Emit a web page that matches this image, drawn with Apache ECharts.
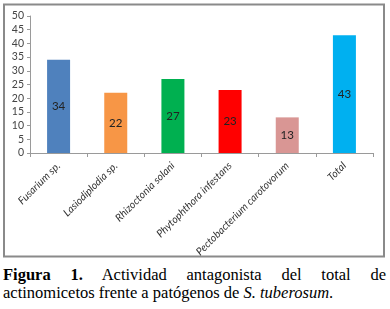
<!DOCTYPE html>
<html>
<head>
<meta charset="utf-8">
<script src="https://cdn.jsdelivr.net/npm/echarts@6/dist/echarts.min.js"></script>
<style>
  body { margin: 0; background: #fff; width: 390px; height: 309px; overflow: hidden; position: relative; }
  #chart { position: absolute; left: 0; top: 0; width: 390px; height: 260px; }
  #caption { position: absolute; left: 3px; top: 266px; width: 383px; font-family: "Liberation Serif", serif; font-size: 16.5px; line-height: 18px; color: #000; }
  #caption .l1 { text-align: justify; text-align-last: justify; }
</style>
</head>
<body>
<div id="chart"></div>
<div id="caption">
  <div class="l1"><b>Figura 1.</b> Actividad antagonista del total de</div>
  <div>actinomicetos frente a patógenos de <i>S. tuberosum</i>.</div>
</div>
<script>
// datos
var categorias = ['Fusarium sp.', 'Lasiodiplodia sp.', 'Rhizoctonia solani', 'Phytophthora infestans', 'Pectobacterium carotovorum', 'Total'];
var valores = [34, 22, 27, 23, 13, 43];
var colores = ['#4F81BD', '#F79646', '#00B050', '#FF0000', '#D99694', '#00B0F0'];

var myChart = echarts.init(document.getElementById('chart'));
var datos = [];
for (var i = 0; i < valores.length; i++) {
  datos.push({ value: valores[i], itemStyle: { color: colores[i] } });
}
var option = {
  animation: false,
  grid: { left: 30, right: 17, top: 16, bottom: 107, containLabel: false, outerBoundsMode: 'none' },
  graphic: [{
    type: 'rect', silent: true, z: -1,
    shape: { x: 4, y: 4.5, width: 380, height: 252 },
    style: { fill: 'none', stroke: '#8a8a8a', lineWidth: 2 }
  }],
  xAxis: {
    type: 'category',
    data: categorias,
    axisLine: { lineStyle: { color: '#9a9a9a' } },
    axisTick: { show: true, length: 4, lineStyle: { color: '#9a9a9a' } },
    axisLabel: { rotate: 45, interval: 0, fontStyle: 'italic', fontFamily: 'Lato', fontSize: 10.5, color: '#333', margin: 11 }
  },
  yAxis: {
    type: 'value', min: 0, max: 50, interval: 5,
    splitLine: { show: false },
    axisLine: { show: true, lineStyle: { color: '#9a9a9a' } },
    axisTick: { show: true, length: 3, lineStyle: { color: '#9a9a9a' } },
    axisLabel: { fontFamily: 'Lato', fontSize: 10.5, color: '#444', margin: 6 }
  },
  series: [{
    type: 'bar',
    data: datos,
    barWidth: 23,
    label: { show: true, position: 'inside', color: '#222', fontFamily: 'Lato', fontSize: 11.5 }
  }]
};
myChart.setOption(option);
</script>
</body>
</html>
